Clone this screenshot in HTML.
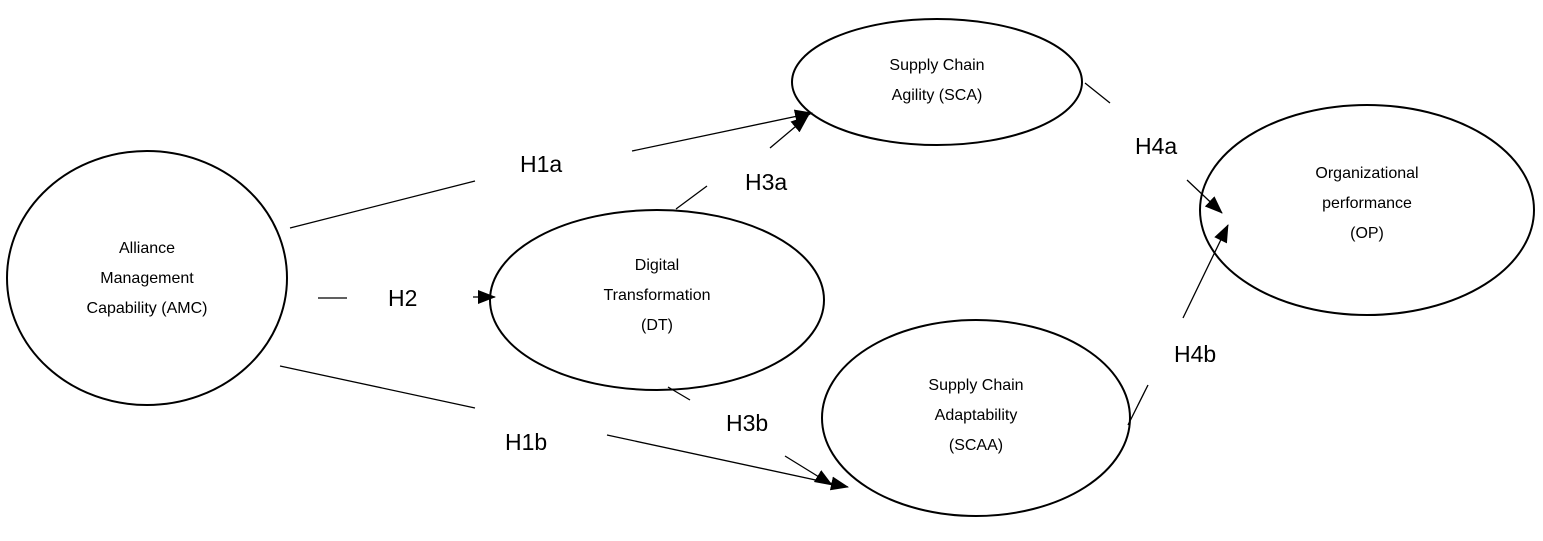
<!DOCTYPE html>
<html><head><meta charset="utf-8"><style>
html,body{margin:0;padding:0;background:#fff;}
svg{display:block;}
text{font-family:"Liberation Sans",sans-serif;fill:#000;}
.n{font-size:16px;text-anchor:middle;}
.h{font-size:23px;}
</style></head><body>
<svg width="1543" height="541" viewBox="0 0 1543 541" xmlns="http://www.w3.org/2000/svg">
<defs><marker id="a" markerWidth="18" markerHeight="14" refX="17" refY="7" orient="auto" markerUnits="userSpaceOnUse"><path d="M0,0 L18,7 L0,14 z" fill="#000"/></marker></defs>
<g fill="none" stroke="#000" stroke-width="2">
<ellipse cx="147" cy="278" rx="140" ry="127"/>
<ellipse cx="657" cy="300" rx="167" ry="90"/>
<ellipse cx="937" cy="82" rx="145" ry="63"/>
<ellipse cx="1367" cy="210" rx="167" ry="105"/>
<ellipse cx="976" cy="418" rx="154" ry="98"/>
</g>
<g stroke="#000" stroke-width="1.3" fill="none">
<line x1="290" y1="228" x2="475" y2="181"/>
<line x1="632" y1="151" x2="812" y2="113" marker-end="url(#a)"/>
<line x1="676" y1="209" x2="707" y2="186"/>
<line x1="770" y1="148" x2="808" y2="116" marker-end="url(#a)"/>
<line x1="318" y1="298" x2="347" y2="298"/>
<line x1="473" y1="297" x2="495" y2="297" marker-end="url(#a)"/>
<line x1="280" y1="366" x2="475" y2="408"/>
<line x1="607" y1="435" x2="848" y2="487" marker-end="url(#a)"/>
<line x1="668" y1="387" x2="690" y2="400"/>
<line x1="785" y1="456" x2="832" y2="485" marker-end="url(#a)"/>
<line x1="1085" y1="83" x2="1110" y2="103"/>
<line x1="1187" y1="180" x2="1222" y2="213" marker-end="url(#a)"/>
<line x1="1128" y1="425" x2="1148" y2="385"/>
<line x1="1183" y1="318" x2="1228" y2="225" marker-end="url(#a)"/>
</g>
<text class="n" x="147" y="253">Alliance</text>
<text class="n" x="147" y="283">Management</text>
<text class="n" x="147" y="313">Capability (AMC)</text>
<text class="n" x="657" y="270">Digital</text>
<text class="n" x="657" y="300">Transformation</text>
<text class="n" x="657" y="330">(DT)</text>
<text class="n" x="937" y="70">Supply Chain</text>
<text class="n" x="937" y="100">Agility (SCA)</text>
<text class="n" x="1367" y="178">Organizational</text>
<text class="n" x="1367" y="208">performance</text>
<text class="n" x="1367" y="238">(OP)</text>
<text class="n" x="976" y="390">Supply Chain</text>
<text class="n" x="976" y="420">Adaptability</text>
<text class="n" x="976" y="450">(SCAA)</text>
<text class="h" x="520" y="172">H1a</text>
<text class="h" x="745" y="190">H3a</text>
<text class="h" x="388" y="306">H2</text>
<text class="h" x="505" y="450">H1b</text>
<text class="h" x="726" y="431">H3b</text>
<text class="h" x="1135" y="154">H4a</text>
<text class="h" x="1174" y="362">H4b</text>
</svg>
</body></html>
